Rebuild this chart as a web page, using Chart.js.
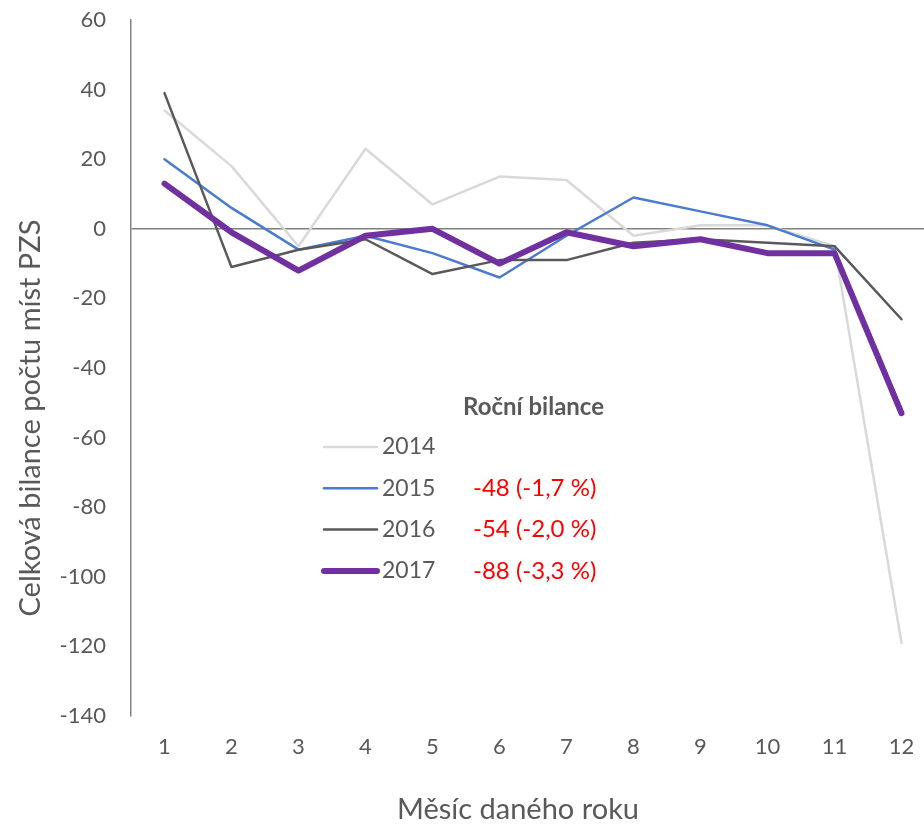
<!DOCTYPE html>
<html>
<head>
<meta charset="utf-8">
<script src="https://cdn.jsdelivr.net/npm/chart.js@4.4.1/dist/chart.umd.min.js"></script>
<style>
  html, body { margin: 0; padding: 0; background: #fff; overflow: hidden; }
  #wrap { width: 924px; height: 825px; overflow: hidden; }
</style>
</head>
<body>
<div id="wrap"><canvas id="balanceChart" width="935" height="825"></canvas></div>
<script>
const months = ["1", "2", "3", "4", "5", "6", "7", "8", "9", "10", "11", "12"];
const years = ["2014", "2015", "2016", "2017"];
const values2014 = [34, 18, -5, 23, 7, 15, 14, -2, 1, 1, -5, -119];
const values2015 = [20, 6, -6, -2, -7, -14, -2, 9, 5, 1, -6, -52];
const values2016 = [39, -11, -6, -3, -13, -9, -9, -4, -3, -4, -5, -26];
const values2017 = [13, -1, -12, -2, 0, -10, -1, -5, -3, -7, -7, -53];
const annualBalance = ["", "-48 (-1,7 %)", "-54 (-2,0 %)", "-88 (-3,3 %)"];
const balanceTitle = "Roční bilance";
const xTitle = "Měsíc daného roku";
const yTitle = "Celková bilance počtu míst PZS";

const FONT = "Lato, 'Liberation Sans', sans-serif";
const TEXT = "#595959";

// legend, annual balance notes and axis titles
const legendNotes = {
    id: "legendNotes",
    afterDraw(chart) {
        const c = chart.ctx;
        c.save();
        c.textBaseline = "middle";
        c.fillStyle = TEXT;

        c.font = "29px " + FONT;
        c.textAlign = "center";
        c.fillText(xTitle, 518, 810);
        c.save();
        c.translate(31, 418);
        c.rotate(-Math.PI / 2);
        c.fillText(yTitle, 0, 0);
        c.restore();

        c.textAlign = "left";
        c.font = "bold 24px " + FONT;
        c.fillText(balanceTitle, 463, 407);

        chart.data.datasets.forEach((ds, i) => {
            const y = 447 + i * 41.3;
            c.beginPath();
            c.strokeStyle = ds.borderColor;
            c.lineWidth = ds.borderWidth;
            c.lineCap = "round";
            c.moveTo(324, y);
            c.lineTo(377, y);
            c.stroke();
            c.font = "23px " + FONT;
            c.fillStyle = TEXT;
            c.fillText(ds.label, 382, y);
            if (annualBalance[i]) {
                c.font = "24px " + FONT;
                c.fillStyle = "#ff0000";
                c.fillText(annualBalance[i], 473, y);
            }
        });
        c.restore();
    }
};

const seriesColors = ["#d9d9d9", "#4a7bcf", "#595959", "#7030a0"];
const seriesWidths = [2.5, 2.5, 2.5, 6];
const seriesValues = [values2014, values2015, values2016, values2017];

const ctx = document.getElementById("balanceChart").getContext("2d");
new Chart(ctx, {
    type: "line",
    data: {
        labels: months,
        datasets: years.map((y, i) => ({
            label: y,
            data: seriesValues[i],
            borderColor: seriesColors[i],
            borderWidth: seriesWidths[i],
            pointRadius: 0,
            tension: 0,
            borderJoinStyle: "round",
            borderCapStyle: "round",
            order: 4 - i
        }))
    },
    options: {
        responsive: false,
        animation: false,
        layout: { padding: { top: 20, left: 0, right: 0, bottom: 0 } },
        plugins: {
            legend: { display: false },
            tooltip: { enabled: false }
        },
        scales: {
            x: {
                offset: true,
                grid: { display: false, drawTicks: false },
                border: { display: false },
                ticks: { color: TEXT, font: { family: FONT, size: 22 }, padding: 18, maxRotation: 0 },
                afterFit(scale) {
                    scale.height = 109;
                    scale.paddingLeft = 0;
                    scale.paddingRight = 0;
                }
            },
            y: {
                min: -140,
                max: 60,
                ticks: { stepSize: 20, color: TEXT, font: { family: FONT, size: 22 }, padding: 25 },
                grid: {
                    drawTicks: false,
                    color: c => c.tick && c.tick.value === 0 ? "#808080" : "rgba(0,0,0,0)",
                    lineWidth: 1.5
                },
                border: { display: true, color: "#808080", width: 1.5 },
                afterFit(scale) {
                    scale.width = 131;
                    scale.paddingTop = 0;
                    scale.paddingBottom = 0;
                }
            }
        }
    },
    plugins: [legendNotes]
});
</script>
</body>
</html>
